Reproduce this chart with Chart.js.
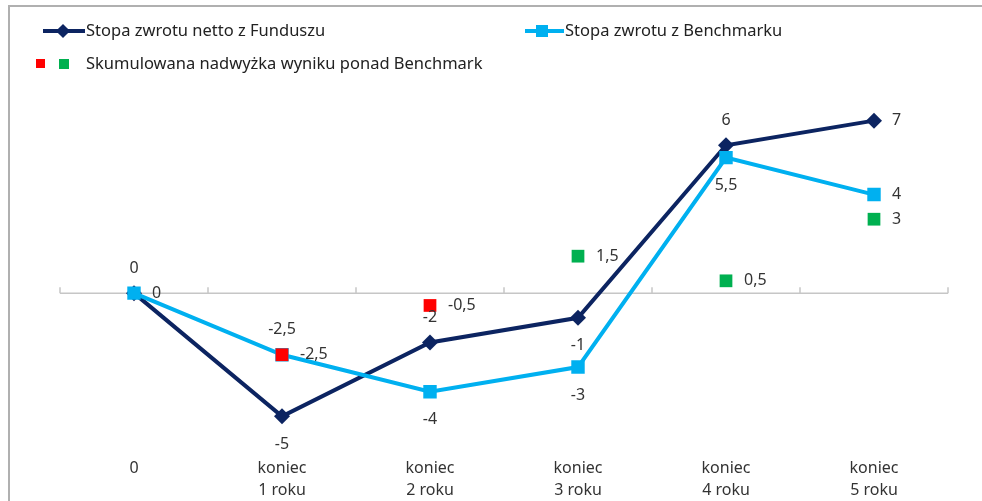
<!DOCTYPE html>
<html>
<head>
<meta charset="utf-8">
<script src="https://cdn.jsdelivr.net/npm/chart.js@4.4.0/dist/chart.umd.min.js"></script>
<style>
  html, body { margin: 0; padding: 0; background: #fff; }
  body { width: 982px; height: 501px; position: relative; overflow: hidden; font-family: "Noto Sans", sans-serif; }
  #frame { position: absolute; left: 8px; top: 5px; right: 0; bottom: 0; border-left: 2px solid #b0b0b0; border-top: 2px solid #b0b0b0; }
  #wrap { position: absolute; left: 0; top: 0; width: 982px; height: 501px; }
  .leg { position: absolute; font-size: 16.5px; color: #222; line-height: 20px; white-space: nowrap; }
  .line { position: absolute; height: 4px; }
  .mk { position: absolute; }
</style>
</head>
<body>
<div id="frame"></div>
<div id="wrap"><canvas id="chart" width="982" height="501"></canvas></div>

<!-- legend -->
<div class="line" style="left:43px; top:29px; width:42px; background:#0c2461;"></div>
<div class="mk" style="left:58px; top:26px; width:10px; height:10px; background:#0c2461; transform:rotate(45deg);"></div>
<div class="leg" style="left:86px; top:20px;">Stopa zwrotu netto z Funduszu</div>

<div class="line" style="left:525px; top:29px; width:39px; background:#00b0f0;"></div>
<div class="mk" style="left:536px; top:25px; width:12px; height:12px; background:#00b0f0;"></div>
<div class="leg" style="left:565px; top:20px;">Stopa zwrotu z Benchmarku</div>

<div class="mk" style="left:36px; top:59px; width:9px; height:9px; background:#ff0000;"></div>
<div class="mk" style="left:59px; top:59px; width:10px; height:10px; background:#00b050;"></div>
<div class="leg" style="left:86px; top:53px;">Skumulowana nadwyżka wyniku ponad Benchmark</div>

<script>
const categories = [['0'], ['koniec', '1 roku'], ['koniec', '2 roku'], ['koniec', '3 roku'], ['koniec', '4 roku'], ['koniec', '5 roku']];
const fundReturn = [0, -5, -2, -1, 6, 7];
const benchmarkReturn = [0, -2.5, -4, -3, 5.5, 4];
const excessReturn = [null, -2.5, -0.5, 1.5, 0.5, 3];

const NAVY = '#0c2461';
const CYAN = '#00b0f0';
const RED = '#ff0000';
const GREEN = '#00b050';

// where each value label sits relative to its point
const fundLabelPos = ['above', 'below', 'above', 'below', 'above', 'right'];
const benchLabelPos = ['right', 'above', 'below', 'below', 'below', 'right'];
const excessLabelPos = ['right', 'right', 'right', 'right', 'right', 'right'];

function fmt(v) {
    return String(v).replace('.', ',');
}

// x axis drawn across the zero line, with tick marks between categories
const zeroAxis = {
    id: 'zeroAxis',
    beforeDatasetsDraw(chart) {
        const { ctx, chartArea, scales } = chart;
        const y0 = scales.y.getPixelForValue(0);
        ctx.save();
        ctx.strokeStyle = '#c6c6c6';
        ctx.lineWidth = 1.5;
        ctx.beginPath();
        ctx.moveTo(chartArea.left, y0);
        ctx.lineTo(chartArea.right, y0);
        const n = categories.length;
        for (let i = 0; i <= n; i++) {
            const x = chartArea.left + (chartArea.right - chartArea.left) * i / n;
            ctx.moveTo(x, y0);
            ctx.lineTo(x, y0 - 6);
        }
        ctx.stroke();
        ctx.restore();
    }
};

const valueLabels = {
    id: 'valueLabels',
    afterDatasetsDraw(chart) {
        const { ctx, scales } = chart;
        ctx.save();
        ctx.font = '16px "Noto Sans"';
        ctx.fillStyle = '#333';
        ctx.textBaseline = 'middle';
        const put = (v, i, pos) => {
            if (v === null) return;
            const x = scales.x.getPixelForValue(i);
            const y = scales.y.getPixelForValue(v);
            const text = fmt(v);
            if (pos === 'above') { ctx.textAlign = 'center'; ctx.fillText(text, x, y - 25); }
            else if (pos === 'below') { ctx.textAlign = 'center'; ctx.fillText(text, x, y + 28); }
            else { ctx.textAlign = 'left'; ctx.fillText(text, x + 18, y); }
        };
        fundReturn.forEach((v, i) => put(v, i, fundLabelPos[i]));
        benchmarkReturn.forEach((v, i) => put(v, i, benchLabelPos[i]));
        excessReturn.forEach((v, i) => put(v, i, excessLabelPos[i]));
        ctx.restore();
    }
};

new Chart(document.getElementById('chart'), {
    type: 'line',
    data: {
        labels: categories,
        datasets: [
            {
                label: 'Skumulowana nadwyżka wyniku ponad Benchmark',
                data: excessReturn,
                showLine: false,
                pointStyle: 'rect',
                pointRadius: 9,
                pointBorderWidth: 0,
                backgroundColor: excessReturn.map(v => v < 0 ? RED : GREEN),
                borderColor: excessReturn.map(v => v < 0 ? RED : GREEN),
                order: 0
            },
            {
                label: 'Stopa zwrotu z Benchmarku',
                data: benchmarkReturn,
                borderColor: CYAN,
                backgroundColor: CYAN,
                borderWidth: 4,
                pointStyle: 'rect',
                pointRadius: 9.5,
                pointBorderWidth: 0,
                tension: 0,
                order: 1
            },
            {
                label: 'Stopa zwrotu netto z Funduszu',
                data: fundReturn,
                borderColor: NAVY,
                backgroundColor: NAVY,
                borderWidth: 4,
                pointStyle: 'rectRot',
                pointRadius: 8,
                pointBorderWidth: 0,
                tension: 0,
                order: 2
            }
        ]
    },
    options: {
        responsive: false,
        animation: false,
        events: [],
        layout: { padding: { left: 60, right: 34, top: 96, bottom: 0 } },
        plugins: {
            legend: { display: false },
            tooltip: { enabled: false }
        },
        scales: {
            x: {
                offset: true,
                grid: { display: false },
                border: { display: false },
                afterFit(axis) { axis.height = 60; },
                ticks: {
                    color: '#333',
                    font: { family: 'Noto Sans', size: 16, lineHeight: 1.38 },
                    padding: 8,
                    maxRotation: 0
                }
            },
            y: {
                display: false,
                min: -6,
                max: 8
            }
        }
    },
    plugins: [zeroAxis, valueLabels]
});
</script>
</body>
</html>
